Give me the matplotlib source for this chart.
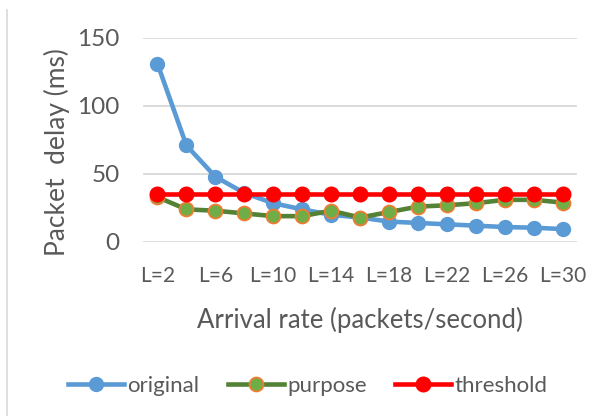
import matplotlib.pyplot as plt
import numpy as np

plt.rcParams['font.family'] = ['Lato', 'DejaVu Sans']

categories = ['L=%d' % n for n in range(2, 32, 2)]
original = [131, 71, 48, 36, 28.5, 24, 20, 18, 15, 14, 13, 12, 11, 10.5, 9.5]
purpose = [33, 24, 23, 21, 19, 19, 23, 18, 22, 26, 27, 28.5, 31, 31, 29]
threshold = [35] * 15

x = np.arange(len(categories))

fig = plt.figure(figsize=(5.92, 4.16), dpi=100)
ax = fig.add_axes([0.2416, 0.4183, 0.7331, 0.4904])

ax.plot(x, original, color='#5B9BD5', lw=3.3, marker='o', ms=10,
        mfc='#5B9BD5', mec='#5B9BD5', label='original')
ax.plot(x, purpose, color='#548235', lw=3.3, marker='o', ms=10,
        mfc='#70AD47', mec='#ED7D31', mew=1.3, label='purpose')
ax.plot(x, threshold, color='#FF0000', lw=3.3, marker='o', ms=10.5,
        mfc='#FF0000', mec='#FF0000', label='threshold')

ax.set_xlim(-0.5, len(categories) - 0.5)
ax.set_ylim(0, 150)
ax.set_yticks([0, 50, 100, 150])
ax.set_xticks(x[::2])
ax.set_xticklabels(categories[::2])
ax.grid(axis='y', color='#D9D9D9', lw=1.3)
ax.set_axisbelow(True)
for s in ax.spines.values():
    s.set_visible(False)
ax.tick_params(length=0, colors='#595959')
ax.tick_params(axis='y', labelsize=17.5, pad=17)
ax.tick_params(axis='x', labelsize=15, pad=17)

ax.set_xlabel('Arrival rate (packets/second)', fontsize=18.5, color='#595959', labelpad=15)
ax.set_ylabel('Packet  delay (ms)', fontsize=19, color='#595959')
ax.yaxis.set_label_coords(-0.168, 0.44)

leg = fig.legend(loc='center', bbox_to_anchor=(0.52, 0.073), ncol=3, frameon=False,
                 fontsize=16, handlelength=2.5, columnspacing=1.3, handletextpad=0.15,
                 labelcolor='#595959')

# chart border remnant on the left
fig.add_artist(plt.Line2D([0.012, 0.012], [0, 0.975], color='#D9D9D9', lw=1.2))

fig.savefig('out.png', dpi=100)
